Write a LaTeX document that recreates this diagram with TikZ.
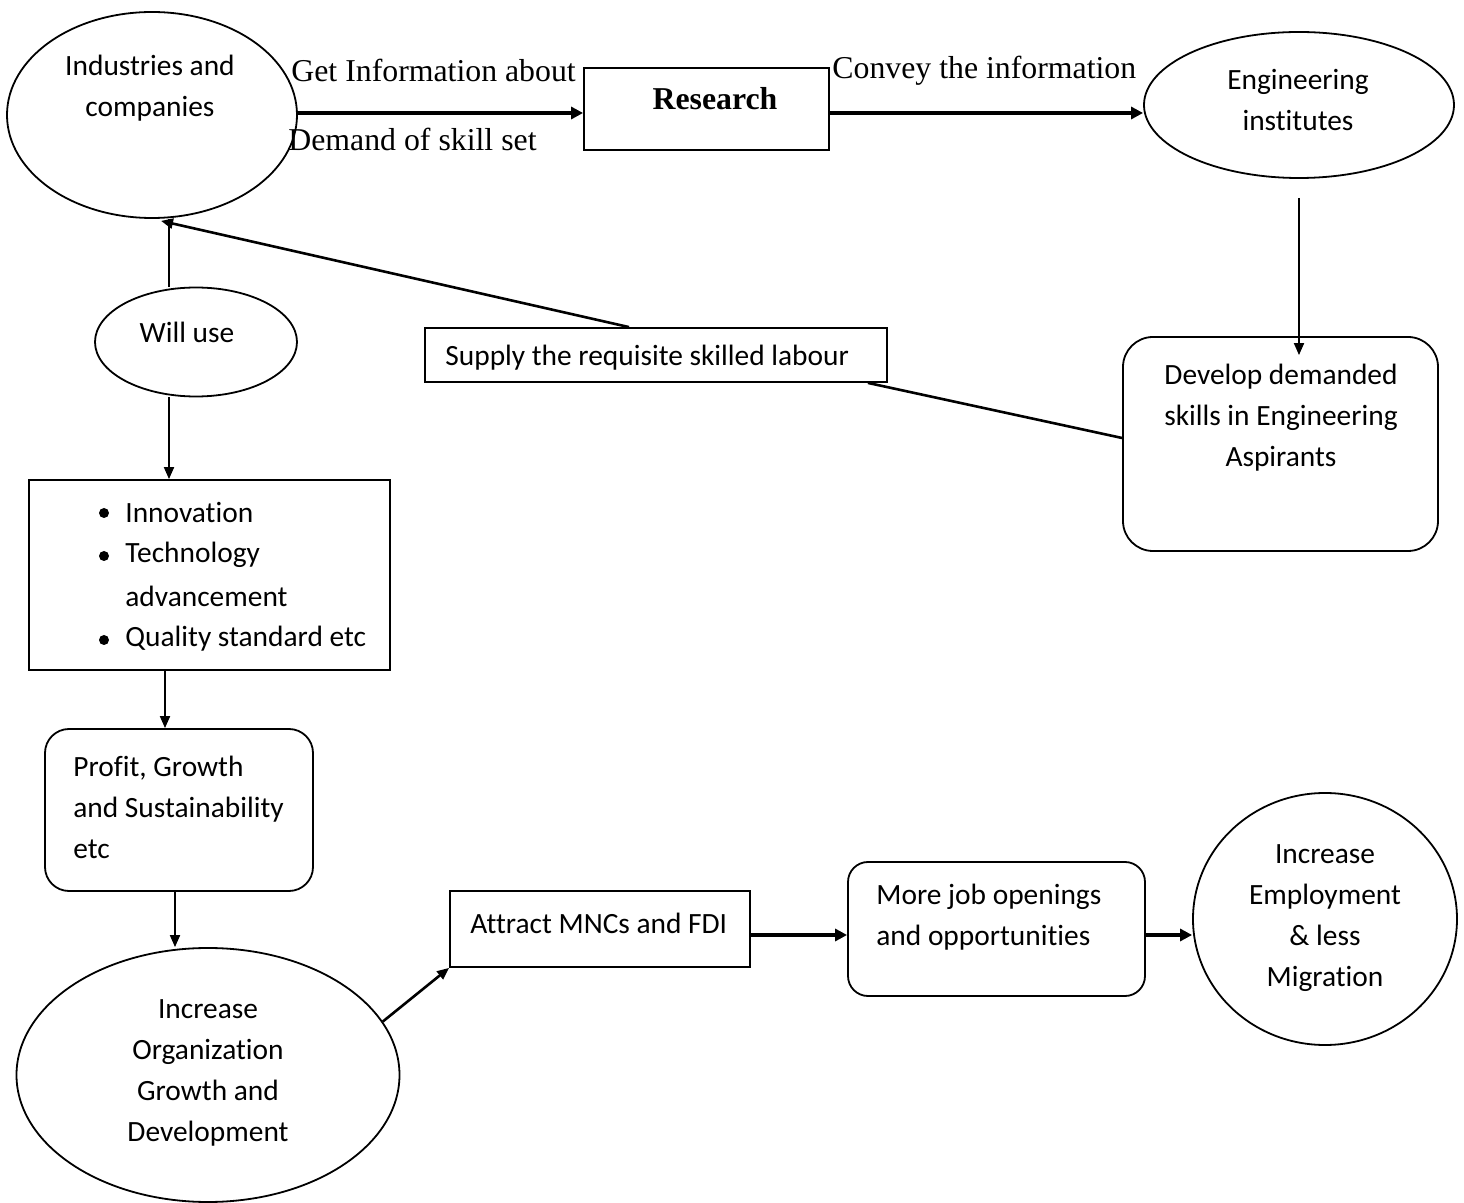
\documentclass[tikz,border=0pt]{standalone}
\usepackage{fontspec}
\setmainfont{Liberation Serif}
\newfontfamily\calfont[Ligatures={NoCommon}]{Carlito}
\usetikzlibrary{shapes.geometric,arrows.meta,calc}
\begin{document}
\begin{tikzpicture}[x=0.5pt,y=-0.5pt,
  shp/.style={draw, line width=0.9pt, inner sep=0pt},
  ell/.style={shp, ellipse},
  box/.style={shp, rectangle},
  rbox/.style={shp, rectangle, rounded corners=#1},
  txt/.style={font=\calfont\fontsize{14.7}{20.5}\selectfont, inner sep=0pt, align=center},
  ltxt/.style={txt, align=left, anchor=west},
  lbl/.style={font=\fontsize{15.9}{19}\selectfont, inner sep=0pt, anchor=west},
  dot/.style={circle, fill, inner sep=0pt, minimum size=5pt},
  arr/.style={line width=0.9pt, -{Triangle[length=6pt,width=5pt]}},
  tarr/.style={line width=1.6pt, -{Triangle[length=6pt,width=6pt]}},
  ln/.style={line width=1.3pt}
]
\useasboundingbox (0,0) rectangle (1464,1203);

% shapes
\node[ell, minimum width=145pt, minimum height=103pt] (ind) at (152,115) {};
\node[txt] (indt) at (150,88.5) {Industries and\\companies};

\node[box, minimum width=122.5pt, minimum height=41pt] (res) at (706.5,109) {};
\node[font=\bfseries\fontsize{15.9}{19}\selectfont, inner sep=0pt] (rest) at (715,99) {Research};

\node[ell, minimum width=155pt, minimum height=73pt] (eng) at (1299,105) {};
\node[txt] (engt) at (1298,100) {Engineering\\institutes};

\node[rbox=15pt, minimum width=157.5pt, minimum height=107pt] (dev) at (1280.5,444) {};
\node[txt] (devt) at (1281,418) {Develop demanded\\skills in Engineering\\Aspirants};

\node[ell, minimum width=101pt, minimum height=54.5pt] (will) at (196,342) {};
\node[txt] (willt) at (187,332) {Will use};

\node[box, minimum width=231pt, minimum height=27pt] (sup) at (656,355) {};
\node[ltxt] (supt) at (445,358) {Supply the requisite skilled labour};

\node[box, minimum width=180.5pt, minimum height=95pt] (bul) at (209.5,575) {};
\node[dot] (b1) at (104,513) {};
\node[dot] (b2) at (104,556) {};
\node[dot] (b3) at (104,640) {};
\node[ltxt] (l1) at (125,512) {Innovation};
\node[ltxt] (l2) at (125,555) {Technology};
\node[ltxt] (l3) at (125,596) {advancement};
\node[ltxt] (l4) at (125,639) {Quality standard etc};

\node[rbox=12pt, minimum width=134pt, minimum height=81pt] (pro) at (179,810) {};
\node[ltxt] (prot) at (73,807) {Profit, Growth\\and Sustainability\\etc};

\node[ell, minimum width=191.5pt, minimum height=127pt] (org) at (208,1075) {};
\node[txt] (orgt) at (208,1072.5) {Increase\\Organization\\Growth and\\Development};

\node[box, minimum width=150pt, minimum height=38pt] (att) at (600,929) {};
\node[ltxt] (attt) at (470,923) {Attract MNCs and FDI};

\node[rbox=10pt, minimum width=148.5pt, minimum height=67pt] (job) at (996.5,929) {};
\node[ltxt] (jobt) at (876,917.5) {More job openings\\and opportunities};

\node[ell, minimum width=132pt, minimum height=126pt] (emp) at (1325,919) {};
\node[txt] (empt) at (1325,918.5) {Increase\\Employment\\\& less\\Migration};

% labels
\node[lbl] (g1) at (291,70) {Get Information about};
\node[lbl] (g2) at (288,139) {Demand of skill set};
\node[lbl] (g3) at (832,71) {Convey the information};

% connectors
\draw[tarr] ([yshift=1pt]ind.east) -- ([yshift=1pt]ind.east -| res.west);
\draw[tarr] ([yshift=-2pt]res.east) -- ([yshift=-2pt]res.east -| eng.west);
\draw[arr] ([yshift=-9.5pt]eng.south) -- ([yshift=-9.5pt]eng.south |- dev.north);
\draw[ln] ([yshift=3pt]dev.west) -- ([xshift=-10pt]sup.south east);
\draw[ln, -{Triangle[length=6pt,width=5pt]}] ([xshift=-13.5pt]sup.north) -- ([xshift=4.5pt,yshift=-1pt]ind.south);
\draw[arr, -] ([xshift=-13.5pt]will.north) -- ([xshift=-13.5pt]will.north |- ind.south);
\draw[arr] ([xshift=-13.5pt]will.south) -- ([xshift=-13.5pt]will.south |- bul.north);
\draw[arr] ([xshift=-7pt]pro.north |- bul.south) -- ([xshift=-7pt]pro.north);
\draw[arr] ([xshift=-2pt]pro.south) -- ([xshift=-2pt]pro.south |- org.north);
\draw[ln, -{Triangle[length=6pt,width=5pt]}] (org.17) -- (att.south west);
\draw[tarr] ([yshift=-3pt]att.east) -- ([yshift=-3pt]att.east -| job.west);
\draw[tarr] ([yshift=-3pt]job.east) -- ([yshift=-3pt]job.east -| emp.west);
\end{tikzpicture}
\end{document}
